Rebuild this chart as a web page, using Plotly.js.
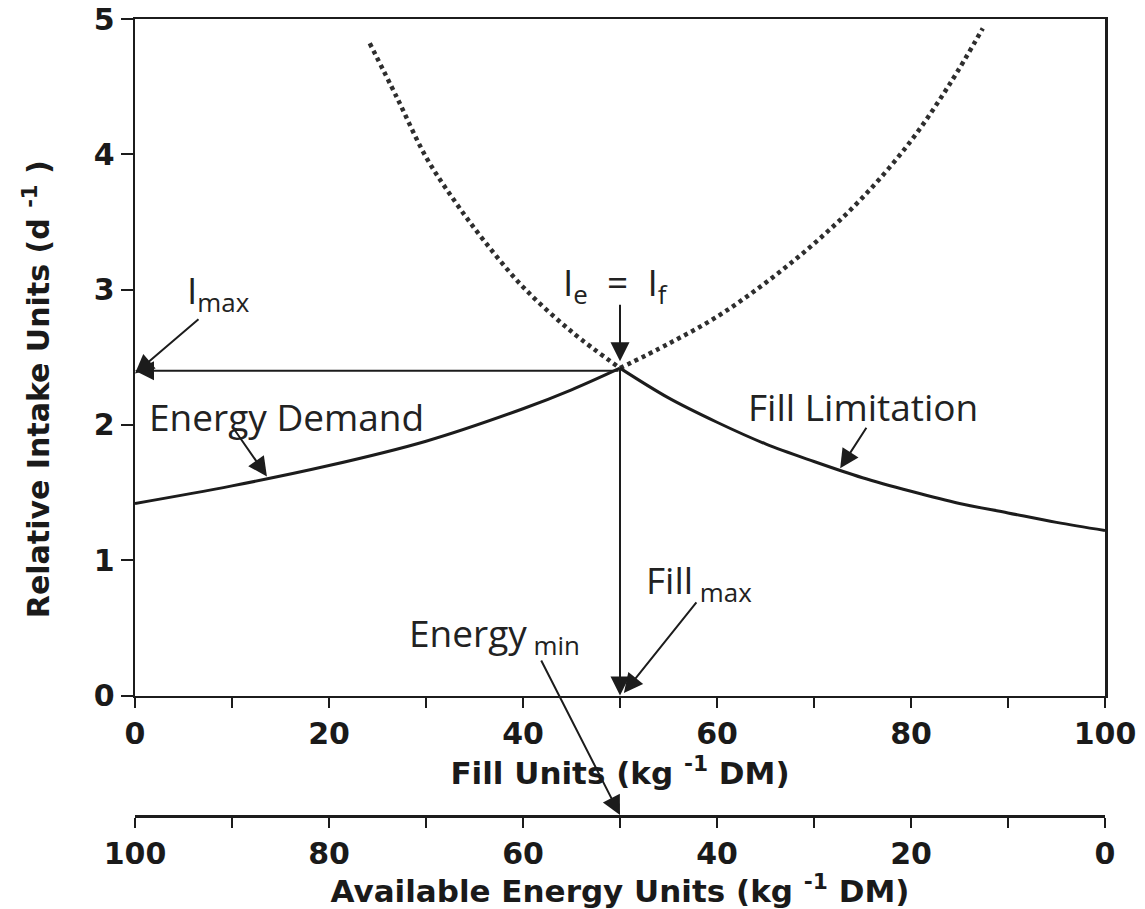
<!DOCTYPE html>
<html>
<head>
<meta charset="utf-8">
<script src="https://cdn.plot.ly/plotly-3.0.1.min.js"></script>
<style>html,body{margin:0;padding:0;background:#fff;}#chart{width:1145px;height:909px;}</style>
</head>
<body>
<div id="chart"></div>
<script>
// ---- data ----
const energyX = [0, 10, 20, 30, 40, 45, 50];
const energyY = [1.42, 1.55, 1.70, 1.88, 2.12, 2.26, 2.42];
const energyDotX = [50, 55, 60, 65, 70, 75, 80, 84, 87.4];
const energyDotY = [2.42, 2.60, 2.80, 3.05, 3.34, 3.68, 4.10, 4.52, 4.93];
const fillX = [50, 55, 60, 65, 70, 75, 80, 85, 90, 95, 100];
const fillY = [2.42, 2.20, 2.02, 1.86, 1.73, 1.61, 1.51, 1.42, 1.35, 1.28, 1.22];
const fillDotX = [24.2, 27, 30, 33, 36, 40, 45, 50];
const fillDotY = [4.82, 4.42, 3.98, 3.65, 3.36, 3.02, 2.69, 2.42];
const xTickVals = [0, 10, 20, 30, 40, 50, 60, 70, 80, 90, 100];
const xTickText = ['0', '', '20', '', '40', '', '60', '', '80', '', '100'];
const yTickVals = [0, 1, 2, 3, 4, 5];

const peakX = energyX[energyX.length - 1];
const peakY = energyY[energyY.length - 1];

const ink = '#1c1c1c';
const yDom0 = 0.150;
const yMax = 5;
const secAxisY = -yDom0 / (1 - yDom0) * yMax; // data y of the lower (energy) axis line

const traces = [
  {x: fillDotX, y: fillDotY, mode: 'lines', line: {color: '#2e2e2e', width: 4.5, dash: '4px,4px', shape: 'spline'}, hoverinfo: 'skip', name: 'fill (extended)'},
  {x: energyDotX, y: energyDotY, mode: 'lines', line: {color: '#2e2e2e', width: 4.5, dash: '4px,4px', shape: 'spline'}, hoverinfo: 'skip', name: 'energy (extended)'},
  {x: energyX, y: energyY, mode: 'lines', line: {color: ink, width: 3, shape: 'spline'}, name: 'Energy Demand'},
  {x: fillX, y: fillY, mode: 'lines', line: {color: ink, width: 3, shape: 'spline'}, name: 'Fill Limitation'},
  {x: [0, 100], y: [0, 0], xaxis: 'x2', yaxis: 'y2', mode: 'lines', line: {width: 0}, hoverinfo: 'skip', showlegend: false}
];

const labelFont = {family: 'Open Sans, Noto Sans, sans-serif', size: 37, color: '#222'};
const tickFont = {family: 'DejaVu Sans, sans-serif', size: 30, color: '#1a1a1a', weight: 700};
const titleFont = {family: 'DejaVu Sans, sans-serif', size: 31, color: '#1a1a1a', weight: 700};

function arrow(x, y, ax, ay, extra) {
  return Object.assign({x: x, y: y, ax: ax, ay: ay, xref: 'x', yref: 'y', axref: 'x', ayref: 'y',
    text: '', showarrow: true, arrowhead: 2, arrowsize: 1.9, arrowwidth: 2, arrowcolor: ink}, extra || {});
}

const annotations = [
  // y-axis title (placed as an annotation to match the reference's vertical position)
  {x: 0, y: 0.535, xref: 'paper', yref: 'paper', xanchor: 'center', yanchor: 'middle', xshift: -98,
   textangle: -90, text: 'Relative Intake Units (d <sup>-1</sup> )', showarrow: false,
   font: Object.assign({}, titleFont, {size: 30})},
  {x: 15.6, y: 2.06, xref: 'x', yref: 'y', text: 'Energy Demand', showarrow: false, font: labelFont},
  {x: 75.1, y: 2.14, xref: 'x', yref: 'y', text: 'Fill Limitation', showarrow: false, font: labelFont},
  {x: 49.5, y: 3.04, xref: 'x', yref: 'y', text: 'I<sub>e</sub>  =  I<sub>f</sub>', showarrow: false, font: labelFont},
  {x: 8.6, y: 2.98, xref: 'x', yref: 'y', text: 'I<sub>max</sub>', showarrow: false, font: labelFont},
  {x: 58.1, y: 0.84, xref: 'x', yref: 'y', text: 'Fill<sub> max</sub>', showarrow: false, font: labelFont},
  {x: 37.1, y: 0.45, xref: 'x', yref: 'y', text: 'Energy<sub> min</sub>', showarrow: false, font: labelFont},
  // arrows
  arrow(0, peakY - 0.02, peakX, peakY - 0.02),          // horizontal I_max line
  arrow(peakX, 0, peakX, peakY),                         // vertical line down to Fill_max
  arrow(0, 2.38, 6.7, 2.79),                             // I_max pointer
  arrow(peakX, peakY + 0.05, peakX, 2.90),               // Ie = If pointer
  arrow(13.6, 1.62, 10.2, 1.97),                         // Energy Demand pointer
  arrow(72.7, 1.68, 75.5, 1.99),                         // Fill Limitation pointer
  arrow(peakX + 0.4, 0.02, 58.0, 0.70),                  // Fill_max pointer
  arrow(peakX, secAxisY, 41.8, 0.27)                     // Energy_min pointer
];

const layout = {
  width: 1145, height: 909,
  margin: {l: 135, r: 40, t: 19, b: 94},
  paper_bgcolor: '#fff', plot_bgcolor: '#fff',
  showlegend: false,
  xaxis: {
    range: [0, 100], tickvals: xTickVals, ticktext: xTickText,
    ticks: 'outside', ticklen: 10, tickwidth: 2, tickcolor: ink,
    showline: true, linecolor: ink, linewidth: 2.5, mirror: true,
    showgrid: false, zeroline: false, tickfont: tickFont,
    anchor: 'y',
    title: {text: 'Fill Units (kg <sup>-1</sup> DM)', font: titleFont, standoff: 2}
  },
  yaxis: {
    domain: [yDom0, 1], range: [0, yMax], tickvals: yTickVals,
    ticks: 'outside', ticklen: 12, tickwidth: 2, tickcolor: ink,
    showline: true, linecolor: ink, linewidth: 2.5, mirror: true,
    showgrid: false, zeroline: false, tickfont: tickFont
  },
  xaxis2: {
    range: [100, 0], tickvals: xTickVals, ticktext: xTickText,
    anchor: 'y2', side: 'bottom',
    ticks: 'outside', ticklen: 10, tickwidth: 2, tickcolor: ink,
    showline: true, linecolor: ink, linewidth: 2.5, mirror: false,
    showgrid: false, zeroline: false, tickfont: tickFont,
    title: {text: 'Available Energy Units (kg <sup>-1</sup> DM)', font: titleFont, standoff: 2}
  },
  yaxis2: {domain: [0, 0.001], visible: false, range: [0, 1], fixedrange: true},
  annotations: annotations
};

Plotly.newPlot('chart', traces, layout, {staticPlot: true, displayModeBar: false});
</script>
</body>
</html>
